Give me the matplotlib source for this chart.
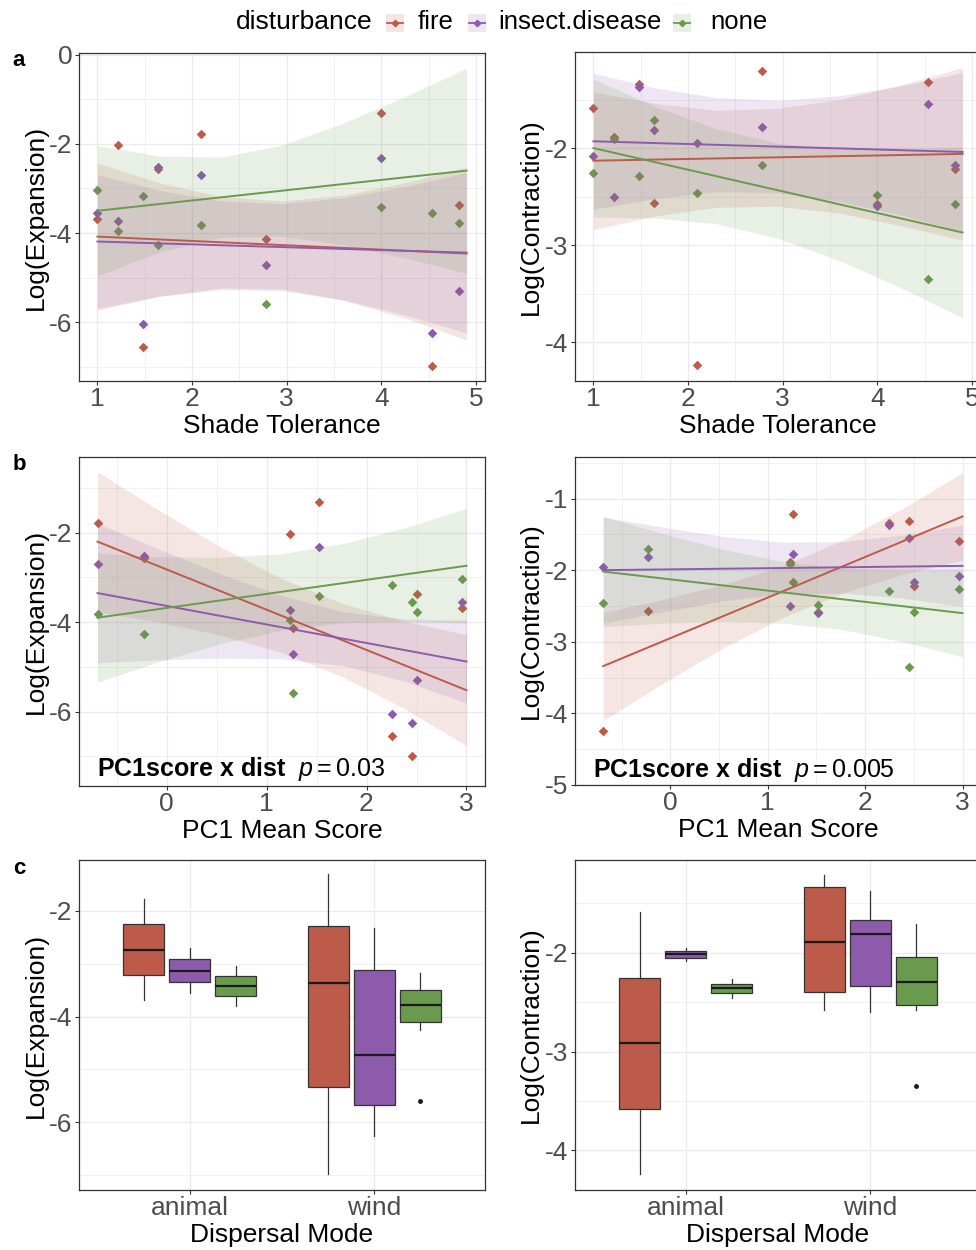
import numpy as np
import matplotlib.pyplot as plt
from matplotlib.patches import Rectangle

plt.rcParams['font.family'] = ['Liberation Sans', 'DejaVu Sans']
plt.rcParams['axes.unicode_minus'] = False
plt.rcParams['mathtext.fontset'] = 'custom'
plt.rcParams['mathtext.rm'] = 'Liberation Sans'
plt.rcParams['mathtext.it'] = 'Liberation Sans:italic'
plt.rcParams['mathtext.bf'] = 'Liberation Sans:bold'

# ---- species level data (9 species) ----
shade = [1.0, 1.22, 1.48, 1.64, 2.09, 2.78, 4.0, 4.53, 4.82]
pc1 = [2.96, 1.23, 2.25, -0.23, -0.69, 1.26, 1.52, 2.45, 2.50]
dispersal = ['animal', 'wind', 'wind', 'wind', 'animal', 'wind', 'wind', 'wind', 'wind']
modes = ['animal', 'wind']

disturbances = ['fire', 'insect.disease', 'none']
colors = ['#BC5B49', '#8D5BAC', '#6A9A4E']

exp_fire = [-3.69, -2.02, -6.55, -2.56, -1.78, -4.13, -1.31, -6.98, -3.36]
exp_insect = [-3.56, -3.72, -6.05, -2.52, -2.70, -4.72, -2.32, -6.25, -5.29]
exp_none = [-3.04, -3.96, -3.17, -4.26, -3.81, -5.59, -3.42, -3.56, -3.78]

con_fire = [-1.59, -1.89, -1.34, -2.57, -4.24, -1.21, -2.58, -1.32, -2.22]
con_insect = [-2.08, -2.50, -1.37, -1.81, -1.95, -1.78, -2.60, -1.55, -2.17]
con_none = [-2.26, -1.91, -2.29, -1.71, -2.46, -2.17, -2.48, -3.35, -2.58]

# ---- fitted lines (ends) and confidence bands ----
shade_fit_x = [1.0, 4.9]
shade_band_x = [1.0, 1.65, 2.3, 2.95, 3.6, 4.25, 4.9]
pc1_fit_x = [-0.69, 3.0]
pc1_band_x = [-0.69, -0.075, 0.54, 1.155, 1.77, 2.385, 3.0]

# panel a, expansion
a_exp_fit = [[-4.08, -4.46], [-4.19, -4.44], [-3.50, -2.60]]
a_exp_lo = [[-5.73, -5.42, -5.23, -5.25, -5.51, -5.91, -6.40],
            [-5.69, -5.42, -5.27, -5.29, -5.50, -5.84, -6.24],
            [-4.96, -4.43, -4.10, -4.07, -4.27, -4.56, -4.90]]
a_exp_hi = [[-2.43, -2.87, -3.18, -3.28, -3.15, -2.87, -2.52],
            [-2.69, -3.04, -3.28, -3.34, -3.21, -2.96, -2.64],
            [-2.04, -2.27, -2.30, -2.03, -1.53, -0.94, -0.30]]

# panel a, contraction
a_con_fit = [[-2.13, -2.06], [-1.93, -2.04], [-2.00, -2.87]]
a_con_lo = [[-2.84, -2.70, -2.61, -2.60, -2.67, -2.80, -2.95],
            [-2.63, -2.52, -2.45, -2.46, -2.55, -2.69, -2.86],
            [-2.71, -2.72, -2.78, -2.93, -3.16, -3.44, -3.75]]
a_con_hi = [[-1.42, -1.54, -1.61, -1.59, -1.50, -1.35, -1.17],
            [-1.23, -1.38, -1.48, -1.51, -1.46, -1.36, -1.22],
            [-1.29, -1.57, -1.80, -1.95, -2.01, -2.01, -1.99]]

# panel b, expansion
b_exp_fit = [[-2.20, -5.52], [-3.35, -4.88], [-3.90, -2.74]]
b_exp_lo = [[-3.76, -4.00, -4.29, -4.68, -5.23, -5.94, -6.76],
            [-4.91, -4.84, -4.80, -4.82, -4.97, -5.32, -5.81],
            [-5.34, -4.88, -4.48, -4.18, -4.01, -3.98, -4.02]]
b_exp_hi = [[-0.64, -1.50, -2.32, -3.03, -3.59, -3.98, -4.28],
            [-1.79, -2.37, -2.92, -3.41, -3.77, -3.93, -3.95],
            [-2.46, -2.54, -2.55, -2.47, -2.24, -1.89, -1.46]]

# panel b, contraction
b_con_fit = [[-3.34, -1.25], [-2.00, -1.94], [-2.02, -2.60]]
b_con_lo = [[-4.10, -3.58, -3.09, -2.66, -2.32, -2.06, -1.86],
            [-2.74, -2.58, -2.43, -2.33, -2.32, -2.39, -2.51],
            [-2.79, -2.74, -2.72, -2.74, -2.83, -3.00, -3.21]]
b_con_hi = [[-2.59, -2.41, -2.20, -1.94, -1.58, -1.14, -0.64],
            [-1.26, -1.40, -1.53, -1.61, -1.60, -1.51, -1.37],
            [-1.25, -1.49, -1.71, -1.88, -1.98, -2.01, -1.99]]

exp_all = [exp_fire, exp_insect, exp_none]
con_all = [con_fire, con_insect, con_none]

W, H = 976, 1250
fig = plt.figure(figsize=(W / 100, H / 100), dpi=100)


def add_ax(l, t, r, b):
    return fig.add_axes([l / W, 1 - b / H, (r - l) / W, (b - t) / H])


def style(ax, xlim, ylim, xmaj, xmin_, ymaj, ymin_):
    ax.set_xlim(xlim)
    ax.set_ylim(ylim)
    ax.set_xticks(xmaj)
    ax.set_xticks(xmin_, minor=True)
    ax.set_yticks(ymaj)
    ax.set_yticks(ymin_, minor=True)
    ax.grid(which='major', color='#EBEBEB', lw=1.0)
    ax.grid(which='minor', color='#EBEBEB', lw=0.5)
    ax.set_axisbelow(True)
    ax.tick_params(which='minor', length=0)
    ax.tick_params(which='major', length=3, width=0.8, color='#333333',
                   labelsize=19, labelcolor='#4D4D4D', pad=1.5)
    for s in ax.spines.values():
        s.set_color('#333333')
        s.set_linewidth(0.9)


def labels(ax, xlab, ylab, xy=-0.137, yx=-0.106):
    ax.set_xlabel(xlab, fontsize=19, va='center')
    ax.set_ylabel(ylab, fontsize=19, va='center')
    ax.xaxis.set_label_coords(0.5, xy)
    ax.yaxis.set_label_coords(yx, 0.5)


def scatter_panel(ax, x, ys, fit_x, fits, band_x, los, his):
    for y, c in zip(ys, colors):
        ax.scatter(x, y, marker='D', s=24, color=c, lw=0, zorder=2)
    for lo, hi, c in zip(los, his, colors):
        ax.fill_between(band_x, lo, hi, color=c, alpha=0.15, lw=0, zorder=3)
    for f, c in zip(fits, colors):
        ax.plot(fit_x, f, color=c, lw=1.4, zorder=4)


def box_panel(ax, ys):
    for i, (y, c) in enumerate(zip(ys, colors)):
        for j, m in enumerate(modes):
            vals = [v for v, d in zip(y, dispersal) if d == m]
            ax.boxplot([vals], positions=[j + 1 + (i - 1) * 0.25], widths=0.222,
                       patch_artist=True, manage_ticks=False, whis=1.5,
                       boxprops=dict(facecolor=c, edgecolor='#333333', lw=0.9),
                       medianprops=dict(color='#1a1a1a', lw=1.6),
                       whiskerprops=dict(color='#333333', lw=0.9),
                       capprops=dict(lw=0),
                       flierprops=dict(marker='o', ms=2.5, mfc='#1a1a1a', mec='#1a1a1a'),
                       zorder=3)


# ---- row a: shade tolerance ----
ax = add_ax(79, 53, 485, 381)
scatter_panel(ax, shade, exp_all, shade_fit_x, a_exp_fit, shade_band_x, a_exp_lo, a_exp_hi)
style(ax, (0.805, 5.095), (-7.32, 0.04), [1, 2, 3, 4, 5], [1.5, 2.5, 3.5, 4.5],
      [-6, -4, -2, 0], [-7, -5, -3, -1])
labels(ax, 'Shade Tolerance', 'Log(Expansion)')

ax = add_ax(575, 52, 981, 381)
scatter_panel(ax, shade, con_all, shade_fit_x, a_con_fit, shade_band_x, a_con_lo, a_con_hi)
style(ax, (0.805, 5.095), (-4.40, -1.01), [1, 2, 3, 4, 5], [1.5, 2.5, 3.5, 4.5],
      [-4, -3, -2], [-3.5, -2.5, -1.5])
labels(ax, 'Shade Tolerance', 'Log(Contraction)', yx=-0.108)

# ---- row b: PC1 mean score ----
ax = add_ax(79, 457, 485, 786)
scatter_panel(ax, pc1, exp_all, pc1_fit_x, b_exp_fit, pc1_band_x, b_exp_lo, b_exp_hi)
style(ax, (-0.875, 3.185), (-7.66, -0.31), [0, 1, 2, 3], [-0.5, 0.5, 1.5, 2.5],
      [-6, -4, -2], [-7, -5, -3, -1])
labels(ax, 'PC1 Mean Score', 'Log(Expansion)')
ax.text(-0.70, -7.29, r'$\mathbf{PC1score\ x\ dist}\ \ \mathit{p} = 0.03$',
        fontsize=18, ha='left', va='center', zorder=5)

ax = add_ax(575, 457, 981, 785)
scatter_panel(ax, pc1, con_all, pc1_fit_x, b_con_fit, pc1_band_x, b_con_lo, b_con_hi)
style(ax, (-0.98, 3.19), (-5.0, -0.42), [0, 1, 2, 3], [-0.5, 0.5, 1.5, 2.5],
      [-5, -4, -3, -2, -1], [-4.5, -3.5, -2.5, -1.5, -0.5])
labels(ax, 'PC1 Mean Score', 'Log(Contraction)', yx=-0.108)
ax.text(-0.79, -4.79, r'$\mathbf{PC1score\ x\ dist}\ \ \mathit{p} = 0.005$',
        fontsize=18, ha='left', va='center', zorder=5)

# ---- row c: dispersal mode ----
ax = add_ax(79, 860, 485, 1190)
box_panel(ax, exp_all)
style(ax, (0.4, 2.6), (-7.28, -1.04), [1, 2], [], [-6, -4, -2], [-7, -5, -3])
ax.set_xticklabels(modes)
labels(ax, 'Dispersal Mode', 'Log(Expansion)', xy=-0.136)

ax = add_ax(575, 860, 981, 1190)
box_panel(ax, con_all)
style(ax, (0.4, 2.6), (-4.40, -1.06), [1, 2], [], [-4, -3, -2], [-3.5, -2.5, -1.5])
ax.set_xticklabels(modes)
labels(ax, 'Dispersal Mode', 'Log(Contraction)', xy=-0.136, yx=-0.108)

# ---- panel letters ----
for lab, y in zip(['a', 'b', 'c'], [61, 465, 869]):
    fig.text(19 / W, 1 - y / H, lab, fontsize=16, fontweight='bold', ha='center', va='center')

# ---- legend strip ----
lax = fig.add_axes([0, 1 - 40 / H, 1, 40 / H])
lax.set_xlim(0, W)
lax.set_ylim(40, 0)
lax.axis('off')
lax.text(236, 29, 'disturbance', fontsize=19, va='baseline', ha='left')
for d, c, kx, tx in zip(disturbances, colors, [386, 468, 673], [418, 498, 710]):
    lax.add_patch(Rectangle((kx, 14), 18, 18, color=c, alpha=0.15, lw=0))
    lax.plot([kx + 1, kx + 17], [23, 23], color=c, lw=1.3)
    lax.plot([kx + 9], [23], marker='D', ms=3.2, color=c)
    lax.text(tx, 29, d, fontsize=18.5, va='baseline', ha='left')

fig.savefig('out.png', dpi=100)
